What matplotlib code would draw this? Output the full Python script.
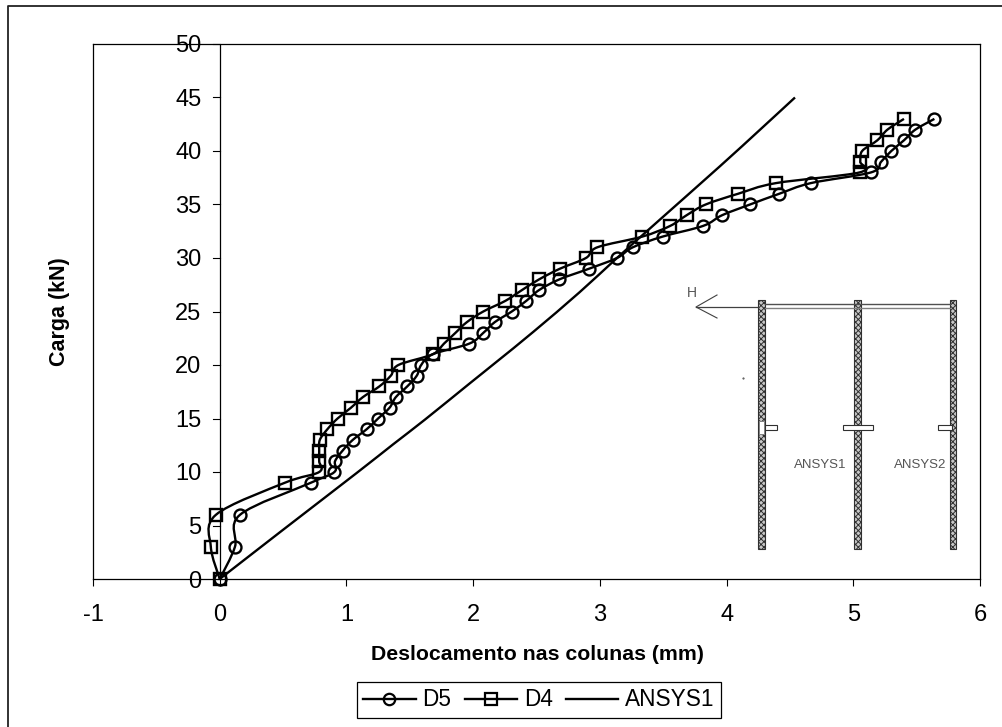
import numpy as np
import matplotlib
matplotlib.use("Agg")
import matplotlib.pyplot as plt
from matplotlib.path import Path
from matplotlib.patches import PathPatch, Rectangle

plt.rcParams['font.family'] = ['Liberation Sans', 'DejaVu Sans']
plt.rcParams['hatch.linewidth'] = 0.7
plt.rcParams['axes.unicode_minus'] = False

d5_x = [0, 0.12, 0.16, 0.72, 0.905, 0.91, 0.97, 1.05, 1.16, 1.25, 1.34, 1.39, 1.48, 1.555, 1.59,
        1.68, 1.97, 2.08, 2.17, 2.305, 2.42, 2.52, 2.68, 2.915, 3.135, 3.26, 3.495, 3.815, 3.965,
        4.185, 4.415, 4.665, 5.14, 5.22, 5.30, 5.40, 5.49, 5.64]
d5_y = [0, 3, 6, 9, 10, 11, 12, 13, 14, 15, 16, 17, 18, 19, 20, 21, 22, 23, 24, 25, 26, 27, 28, 29,
        30, 31, 32, 33, 34, 35, 36, 37, 38, 39, 40, 41, 42, 43]
d4_x = [0, -0.07, -0.03, 0.515, 0.785, 0.785, 0.785, 0.79, 0.85, 0.93, 1.035, 1.13, 1.26, 1.35, 1.41,
        1.68, 1.77, 1.86, 1.95, 2.08, 2.255, 2.385, 2.52, 2.685, 2.89, 2.98, 3.335, 3.555, 3.685,
        3.835, 4.09, 4.39, 5.05, 5.055, 5.07, 5.19, 5.27, 5.40]
d4_y = d5_y
ansys_x = [0, 0.50, 1.08, 1.37, 1.62, 1.975, 2.185, 2.475, 2.84, 3.135, 3.475, 3.95, 4.265, 4.54]
ansys_y = [0, 4.6, 9.9, 12.6, 14.9, 18.3, 20.3, 23.1, 26.8, 30, 33.6, 38.6, 42, 45]
x_ticks = [-1, 0, 1, 2, 3, 4, 5, 6]
y_ticks = [0, 5, 10, 15, 20, 25, 30, 35, 40, 45, 50]

W, H = 1003, 727


def smooth_path(xs, ys):
    # same idea as the smoothed lines in a spreadsheet: bezier segments through the points
    p = np.column_stack([xs, ys]).astype(float)
    verts = [p[0]]
    codes = [Path.MOVETO]
    for i in range(len(p) - 1):
        before = p[max(i - 1, 0)]
        after = p[min(i + 2, len(p) - 1)]
        verts += [p[i] + (p[i + 1] - before) / 6, p[i + 1] - (after - p[i]) / 6, p[i + 1]]
        codes += [Path.CURVE4] * 3
    return Path(verts, codes)


def box(x0, y0, x1, y1):
    # pixel box measured from the top left of the picture
    return [x0 / W, 1 - y1 / H, (x1 - x0) / W, (y1 - y0) / H]


fig = plt.figure(figsize=(W / 100, H / 100), dpi=100, facecolor='white')
# the page frame only shows on the top and left
fig.add_artist(plt.Line2D([8 / W, 8 / W, 1], [0, 1 - 5.5 / H, 1 - 5.5 / H], transform=fig.transFigure,
                          color='#222222', lw=1.3))

ax = fig.add_axes(box(93, 44, 980, 579))
ax.set_xlim(-1, 6)
ax.set_ylim(0, 50)
for side in ['top', 'right', 'left', 'bottom']:
    ax.spines[side].set_linewidth(0.9)
ax.axvline(0, color='black', lw=0.9, zorder=1)

ax.set_xticks(x_ticks)
ax.set_yticks(y_ticks)
ax.tick_params(axis='x', direction='out', length=5, width=0.8, labelsize=17, pad=13)
ax.tick_params(axis='y', left=False, labelleft=False)
for v in y_ticks:
    ax.plot([-0.055, 0], [v, v], color='black', lw=0.8, clip_on=False, zorder=1)
    ax.text(-0.145, v, str(v), ha='right', va='center_baseline', fontsize=17, clip_on=False)

ax.add_patch(PathPatch(smooth_path(d5_x, d5_y), fill=False, ec='black', lw=1.7))
ax.add_patch(PathPatch(smooth_path(d4_x, d4_y), fill=False, ec='black', lw=1.7))
ax.add_patch(PathPatch(smooth_path(ansys_x, ansys_y), fill=False, ec='black', lw=1.7))

# markers go on top of the curves, legend handles are empty lines with the same look
ax.plot(d5_x, d5_y, ls='none', marker='o', ms=8.6, mfc='none', mec='black', mew=1.7, clip_on=False, zorder=4)
ax.plot(d4_x, d4_y, ls='none', marker='s', ms=9, mfc='none', mec='black', mew=1.7, clip_on=False, zorder=4)
h5, = ax.plot([], [], '-o', color='black', lw=1.7, ms=8.2, mfc='none', mew=1.6)
h4, = ax.plot([], [], '-s', color='black', lw=1.7, ms=8.6, mfc='none', mew=1.6)
ha, = ax.plot([], [], '-', color='black', lw=1.7)

fig.text(60 / W, 1 - 312 / H, 'Carga (kN)', rotation=90, ha='center', va='center', fontsize=15.5, fontweight='bold')
fig.text(537 / W, 1 - 655 / H, 'Deslocamento nas colunas (mm)', ha='center', va='center', fontsize=15.3, fontweight='bold')

leg = fig.legend([h5, h4, ha], ['D5', 'D4', 'ANSYS1'], ncol=3, loc='center',
                 bbox_to_anchor=(539 / W, 1 - 700 / H), frameon=True, fancybox=False,
                 edgecolor='black', framealpha=1, fontsize=16.3, handlelength=2.3,
                 handletextpad=0.3, columnspacing=0.6, borderpad=0.3, borderaxespad=0)
leg.get_frame().set_linewidth(0.9)

# inset sketch of the three columns, pasted over the plot in the original
sk = fig.add_axes([0, 0, 1, 1], facecolor='none')
sk.set_xlim(0, W)
sk.set_ylim(H, 0)
sk.axis('off')
gray = '#404040'
for cx in [761.5, 857.3, 953]:
    sk.add_patch(Rectangle((cx - 3, 300), 6.3, 249, fc='#c8c8c8', ec='#303030', lw=0.8,
                           hatch='xxxxxx'))
sk.plot([765, 950], [304, 304], color='#505050', lw=1)
sk.plot([765, 950], [307.8, 307.8], color='#808080', lw=1)
sk.plot([696, 758], [307, 307], color=gray, lw=0.9)
sk.plot([717, 696, 717], [295, 307, 318], color=gray, lw=0.8)
sk.add_patch(Rectangle((759, 421), 5.5, 13, fc='white', ec='#808080', lw=0.7, zorder=3))
for x0, x1 in [(765, 777), (843, 873), (938, 952)]:
    sk.add_patch(Rectangle((x0, 424.5), x1 - x0, 5.5, fc='white', ec='#303030', lw=0.8))
sk.text(692, 293, 'H', ha='center', va='center', fontsize=10, color='#555555')
sk.text(820, 465, 'ANSYS1', ha='center', va='center', fontsize=9.5, color='#555555')
sk.text(920, 465, 'ANSYS2', ha='center', va='center', fontsize=9.5, color='#555555')
sk.plot([743], [378], marker='.', ms=1, color=gray)

fig.savefig('out.png', dpi=100)
plt.close(fig)
